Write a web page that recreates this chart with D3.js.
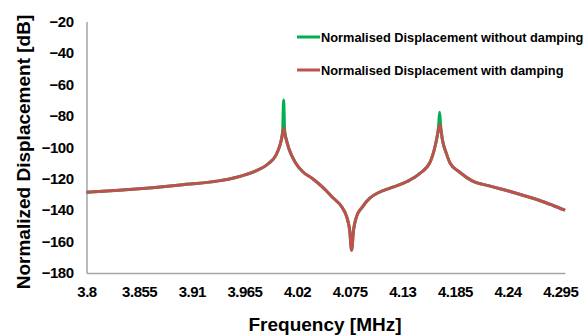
<!DOCTYPE html>
<meta charset="utf-8" />
<script src="https://d3js.org/d3.v7.min.js"></script>
<body style="margin: 0; background: #ffffff">
  <div id="chart"></div>
  <script>
    // frequency [MHz] and normalised displacement [dB]
    var freq = [3.8, 3.834, 3.869, 3.904, 3.938, 3.956, 3.977, 3.99, 3.998, 4.002,
      4.004, 4.005, 4.006, 4.007, 4.009, 4.012, 4.018, 4.026, 4.036, 4.047,
      4.057, 4.067, 4.072, 4.075, 4.077, 4.079, 4.082, 4.088, 4.096, 4.106,
      4.12, 4.135, 4.148, 4.159, 4.164, 4.167, 4.168, 4.169, 4.17, 4.172,
      4.176, 4.18, 4.19, 4.203, 4.221, 4.239, 4.256, 4.273, 4.287, 4.3];
    var withDamping = [-128.7, -127.4, -125.7, -123.6, -121.4, -119.2, -115.0, -110.5, -105.0, -99,
      -94, -91, -87.6, -91, -95.6, -101.8, -109.5, -115.6, -119.9, -125.5,
      -131.8, -138.2, -144.5, -152.8, -165.5, -152.8, -144.5, -138.2, -132.4, -128.6,
      -125.4, -121.8, -116.8, -109.5, -100, -91.1, -88, -85.5, -88, -95.6,
      -103.9, -110.2, -115.9, -121.4, -124.6, -127.5, -130.5, -133.7, -136.9, -140.1];
    var withoutDamping = [-128.7, -127.4, -125.7, -123.6, -121.4, -119.2, -115.0, -110.5, -105.0, -99,
      -94, -89, -70, -89, -95.6, -101.8, -109.5, -115.6, -119.9, -125.5,
      -131.8, -138.2, -144.5, -152.8, -165.5, -152.8, -144.5, -138.2, -132.4, -128.6,
      -125.4, -121.8, -116.8, -109.5, -100, -91.1, -86, -77.8, -86, -95.6,
      -103.9, -110.2, -115.9, -121.4, -124.6, -127.5, -130.5, -133.7, -136.9, -140.1];
    var xTicks = [3.8, 3.855, 3.91, 3.965, 4.02, 4.075, 4.13, 4.185, 4.24, 4.295];
    var yTicks = [-20, -40, -60, -80, -100, -120, -140, -160, -180];
    var seriesNames = ["Normalised Displacement without damping", "Normalised Displacement with damping"];

    var width = 587, height = 336;
    var plotLeft = 86.5, plotRight = 565, plotTop = 21.5, plotBottom = 273;
    var font = "'Liberation Sans', Arial, sans-serif";

    var svg = d3.select("#chart").append("svg")
      .attr("width", width)
      .attr("height", height)
      .style("font-family", font);

    var x = d3.scaleLinear().domain([3.8, 4.3]).range([plotLeft, plotRight]);
    var y = d3.scaleLinear().domain([-180, -20]).range([plotBottom, plotTop]);

    var xAxis = svg.append("g")
      .attr("transform", "translate(0," + plotBottom + ")")
      .call(d3.axisBottom(x).tickValues(xTicks).tickSize(0).tickPadding(13)
        .tickFormat(function (d) { return String(d); }));
    var yAxis = svg.append("g")
      .attr("transform", "translate(" + plotLeft + ",0)")
      .call(d3.axisLeft(y).tickValues(yTicks).tickSize(0).tickPadding(13));

    [xAxis, yAxis].forEach(function (g) {
      g.select(".domain").attr("stroke", "#a6a6a6").attr("stroke-width", 1.5);
      g.selectAll("text")
        .style("font-family", font)
        .style("font-size", "15px")
        .style("font-weight", "bold")
        .style("letter-spacing", "-0.5px")
        .attr("fill", "#000");
    });

    svg.append("text")
      .attr("x", 325)
      .attr("y", 331)
      .attr("text-anchor", "middle")
      .style("font-size", "19px")
      .style("font-weight", "bold")
      .text("Frequency [MHz]");

    svg.append("text")
      .attr("transform", "translate(30,152) rotate(-90)")
      .attr("text-anchor", "middle")
      .style("font-size", "19px")
      .style("font-weight", "bold")
      .text("Normalized Displacement [dB]");

    function linePath(values) {
      return d3.line()
        .curve(d3.curveMonotoneX)
        .x(function (d, i) { return x(freq[i]); })
        .y(function (d) { return y(d); })(values);
    }

    svg.append("path")
      .attr("d", linePath(withoutDamping))
      .attr("fill", "none")
      .attr("stroke", "#00b050")
      .attr("stroke-width", 3);

    svg.append("path")
      .attr("d", linePath(withDamping))
      .attr("fill", "none")
      .attr("stroke", "#c0504d")
      .attr("stroke-width", 3);

    var colors = ["#00b050", "#c0504d"];
    var legend = svg.append("g");
    seriesNames.forEach(function (name, i) {
      var ly = 37 + i * 33;
      legend.append("line")
        .attr("x1", 297).attr("x2", 320)
        .attr("y1", ly).attr("y2", ly)
        .attr("stroke", colors[i])
        .attr("stroke-width", 3);
      legend.append("text")
        .attr("x", 321)
        .attr("y", ly + 4.5)
        .style("font-size", "12.8px")
        .style("font-weight", "bold")
        .text(name);
    });
  </script>
</body>
